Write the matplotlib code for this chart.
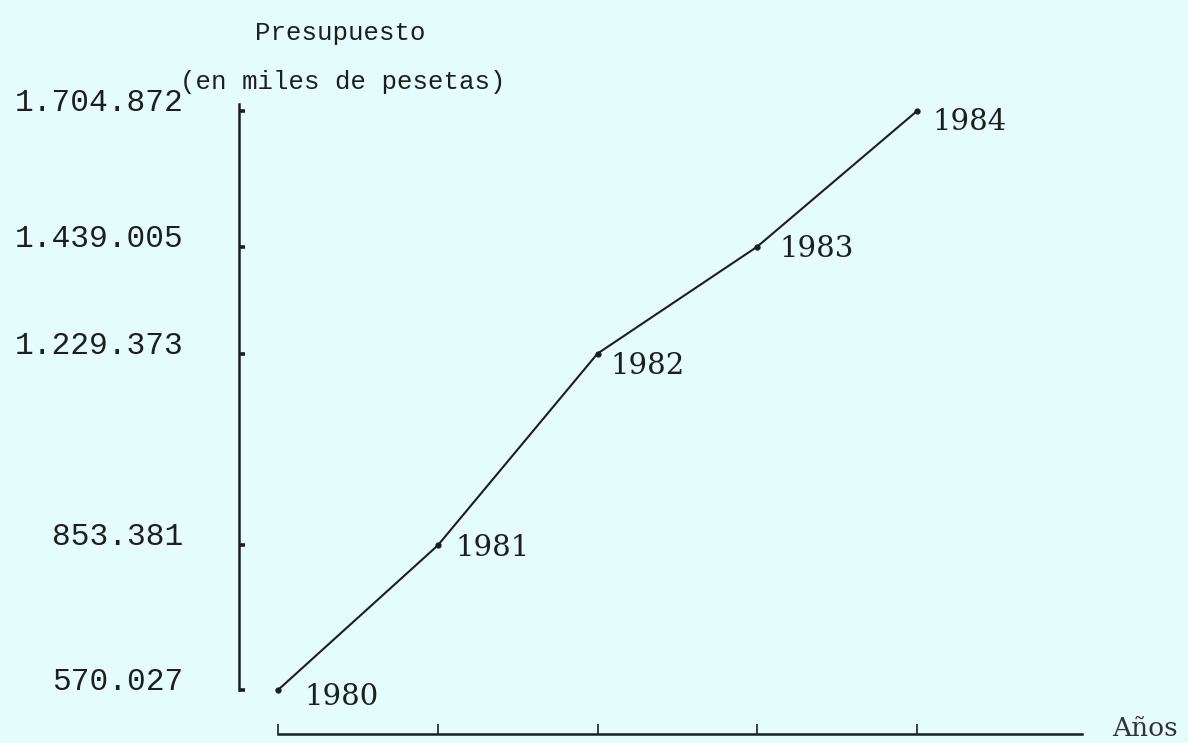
#!/usr/bin/env python3
"""Presupuesto 1980-1984, line chart in the old typewritten style."""

import matplotlib
matplotlib.use('Agg')
import matplotlib.pyplot as plt

# Data
years = [1980, 1981, 1982, 1983, 1984]
budget = [570027, 853381, 1229373, 1439005, 1704872]

# Colours / fonts
BACKGROUND = '#e4fcfc'
INK = '#1e1e1e'
MONO = 'Liberation Mono'
SERIF = 'DejaVu Serif'

W, H, DPI = 1188, 743, 100

# pixel -> data helpers (layout only)
X0_PX, X1_PX = 278, 917      # where 1980 and 1984 sit
Y0_PX, Y1_PX = 690, 111      # where the min and max budget sit
x_per_px = (years[-1] - years[0]) / (X1_PX - X0_PX)
y_per_px = (max(budget) - min(budget)) / (Y0_PX - Y1_PX)


def px_x(px):
    return years[0] + (px - X0_PX) * x_per_px


def px_y(py):
    return min(budget) + (Y0_PX - py) * y_per_px


def generate():
    fig = plt.figure(figsize=(W / DPI, H / DPI), dpi=DPI)
    fig.patch.set_facecolor(BACKGROUND)
    ax = fig.add_axes([0, 0, 1, 1])
    ax.set_facecolor(BACKGROUND)
    ax.set_xlim(px_x(0), px_x(W))
    ax.set_ylim(px_y(H), px_y(0))

    # the series
    ax.plot(years, budget, color=INK, linewidth=1.5, marker='o',
            markersize=3.5, zorder=3)

    # year labels next to each point (offsets in points)
    offsets = [(19, -5), (13, -2), (9, -9), (16, -2), (11, -8)]
    for yr, val, (dx, dy) in zip(years, budget, offsets):
        ax.annotate(str(yr), (yr, val), xytext=(dx, dy),
                    textcoords='offset points', ha='left', va='center',
                    fontsize=21, color=INK, fontfamily=SERIF)

    # axes drawn as detached spines
    for side in ('top', 'right'):
        ax.spines[side].set_visible(False)
    ax.spines['left'].set_position(('data', px_x(239)))
    ax.spines['left'].set_bounds(min(budget), px_y(104))
    ax.spines['bottom'].set_position(('data', px_y(734)))
    ax.spines['bottom'].set_bounds(years[0], px_x(1082))
    for side in ('left', 'bottom'):
        ax.spines[side].set_color(INK)
        ax.spines[side].set_linewidth(1.8)

    ax.set_yticks(budget)
    ax.set_yticklabels([f'{v:,}'.replace(',', '.') for v in budget],
                       fontfamily=MONO, fontsize=22.5, color=INK,
                       va='baseline')
    ax.tick_params(axis='y', direction='in', length=4.5, width=2.6,
                   color=INK, pad=40)
    ax.set_xticks(years)
    ax.tick_params(axis='x', direction='in', length=7, width=1.2,
                   color=INK, labelbottom=False)

    # axis titles
    fig.text(340 / W, 1 - 33 / H, 'Presupuesto', fontsize=18.5,
             fontfamily=MONO, color=INK, ha='center', va='center')
    fig.text(343 / W, 1 - 82 / H, '(en miles de pesetas)', fontsize=18.5,
             fontfamily=MONO, color=INK, ha='center', va='center')
    fig.text(1112 / W, 1 - 729 / H, 'Años', fontsize=19,
             fontfamily=SERIF, color='#333333', ha='left', va='center')

    fig.savefig('out.png', dpi=DPI, facecolor=BACKGROUND)
    plt.close(fig)


if __name__ == '__main__':
    generate()
